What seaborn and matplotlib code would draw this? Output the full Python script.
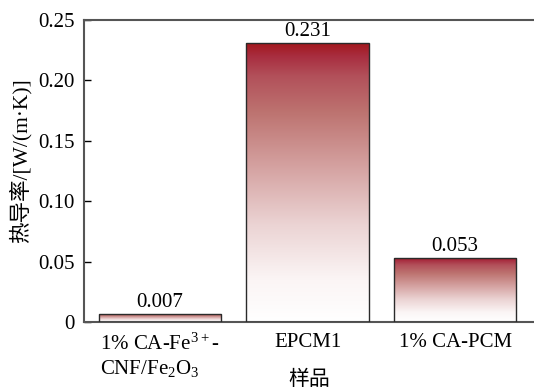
import numpy as np
import pandas as pd
import matplotlib
matplotlib.use("Agg")
import matplotlib.pyplot as plt
import seaborn as sns
from matplotlib.colors import LinearSegmentedColormap

# ---- data ----
samples = ["S1", "EPCM1", "1% CA-PCM"]
tick_labels = ["1% CA-Fe$\\mathregular{^{3+}}$-\nCNF/Fe$\\mathregular{_2}$O$\\mathregular{_3}$",
               "EPCM1", "1% CA-PCM"]
values = [0.007, 0.231, 0.053]
value_labels = ["0.007", "0.231", "0.053"]
y_ticks = [0, 0.05, 0.10, 0.15, 0.20, 0.25]
y_tick_labels = ["0", "0.05", "0.10", "0.15", "0.20", "0.25"]

sns.set_theme(style="ticks")
plt.rcParams["font.family"] = ["Liberation Serif", "Noto Sans CJK SC"]
plt.rcParams["mathtext.fontset"] = "custom"
plt.rcParams["mathtext.rm"] = "Liberation Serif"

W, H = 534, 392
fig = plt.figure(figsize=(W / 100, H / 100), dpi=100)
ax = fig.add_axes([84 / W, 70 / H, (W - 84) / W, 302 / H])

df = pd.DataFrame({"sample": samples, "value": values})
sns.barplot(data=df, x="sample", y="value", ax=ax, width=0.83, color="white",
            edgecolor="#2a2a2a", linewidth=1.0, zorder=3)

cmap = LinearSegmentedColormap.from_list(
    "redgrad",
    [(0.0, "#ffffff"), (0.15, "#fbf5f5"), (0.35, "#ebd3d3"), (0.55, "#d5a3a2"),
     (0.75, "#bd7370"), (0.88, "#b2505a"), (0.95, "#a82e40"), (1.0, "#a3161b")])
grad = np.linspace(0, 1, 256).reshape(-1, 1)
for p in ax.patches:
    x0, y0 = p.get_x(), p.get_y()
    w, h = p.get_width(), p.get_height()
    im = ax.imshow(grad, cmap=cmap, extent=[x0, x0 + w, y0, y0 + h], origin="lower",
                   aspect="auto", zorder=2, interpolation="bilinear")
    im.set_clip_path(p)
    p.set_facecolor("none")

for p, lab in zip(ax.patches, value_labels):
    ax.text(p.get_x() + p.get_width() / 2, p.get_height() + 0.0015, lab,
            ha="center", va="bottom", fontsize=15, color="black")

ax.set_xlim(-0.515, 2.535)
ax.set_ylim(0, 0.25)
ax.set_yticks(y_ticks)
ax.set_yticklabels(y_tick_labels)
ax.set_xticks(range(len(samples)))
ax.set_xticklabels(tick_labels, multialignment="left")

ax.tick_params(axis="y", direction="in", length=5, width=1, pad=7, labelsize=15,
               colors="black")
ax.tick_params(axis="x", length=0, pad=8, labelsize=15, colors="black")

for s in ["left", "bottom", "top"]:
    ax.spines[s].set_visible(True)
    ax.spines[s].set_color("#555555")
    ax.spines[s].set_linewidth(1.5)
ax.spines["right"].set_visible(False)

ax.set_ylabel("热导率/[W/(m·K)]", fontsize=15.5, color="black")
ax.yaxis.set_label_coords(-0.116, 0.533)
ax.set_xlabel("样品", fontsize=15, color="black")
ax.xaxis.set_label_coords(0.5, -0.16)

fig.savefig("out.png", dpi=100)
